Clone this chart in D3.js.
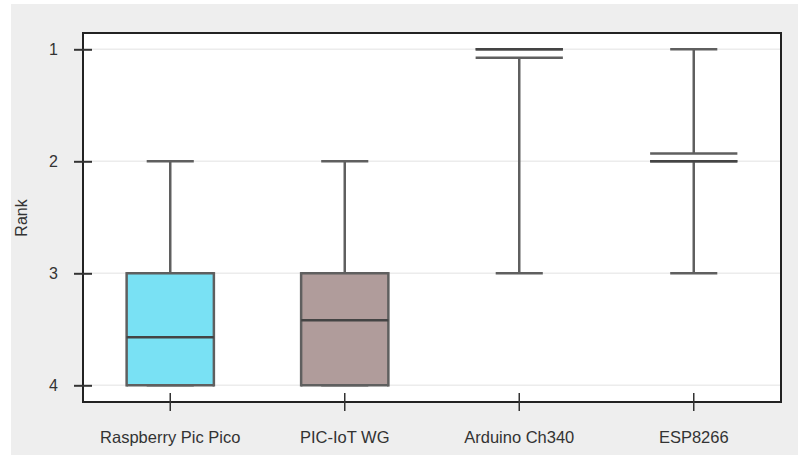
<!DOCTYPE html>
<html>
<head>
<meta charset="utf-8">
<script src="https://cdn.jsdelivr.net/npm/d3@7"></script>
<style>
  body { margin: 0; background: #fff; }
  text { font-family: "Liberation Sans", Arial, sans-serif; fill: #333; }
</style>
</head>
<body>
<svg id="chart" width="798" height="456"></svg>
<script>
// box plot data (rank, 1 = best)
const devices = ["Raspberry Pic Pico", "PIC-IoT WG", "Arduino Ch340", "ESP8266"];
const whiskerLow = [4, 4, 3, 3];
const q1 = [4, 4, 1.075, 2];
const median = [3.57, 3.42, 1, 2];
const q3 = [3, 3, 1, 1.93];
const whiskerHigh = [2, 2, 1, 1];
const fills = ["#79e1f4", "#b09c9b", "#ffffff", "#ffffff"];
const rankTicks = [1, 2, 3, 4];

const width = 798, height = 456;
const margin = { top: 33, right: 17, bottom: 54, left: 83 };

const svg = d3.select("#chart");

// grey panel behind the plot
svg.append("rect")
  .attr("x", 11).attr("y", 4)
  .attr("width", width - 11).attr("height", height - 5)
  .attr("fill", "#eeeeee");

const x = d3.scaleBand()
  .domain(devices)
  .range([margin.left, width - margin.right])
  .padding(0);

// rank 1 at top
const y = d3.scaleLinear()
  .domain([1, 4])
  .range([49.3, 385.3]);

svg.append("rect")
  .attr("x", margin.left).attr("y", margin.top)
  .attr("width", width - margin.right - margin.left)
  .attr("height", height - margin.bottom - margin.top)
  .attr("fill", "#fff");

// gridlines
svg.append("g")
  .selectAll("line")
  .data(rankTicks)
  .join("line")
  .attr("x1", margin.left).attr("x2", width - margin.right)
  .attr("y1", d => y(d)).attr("y2", d => y(d))
  .attr("stroke", "#ececec").attr("stroke-width", 1.5);

const data = devices.map((d, i) => ({
  name: d, lo: whiskerLow[i], q1: q1[i], med: median[i], q3: q3[i], hi: whiskerHigh[i], fill: fills[i]
}));

const boxW = x.bandwidth() * 0.5;
const capW = x.bandwidth() * 0.27;
const stroke = "#5f5f5f";

const g = svg.append("g")
  .selectAll("g")
  .data(data)
  .join("g")
  .attr("transform", d => `translate(${x(d.name) + x.bandwidth() / 2},0)`);

// whisker stem
g.append("line")
  .attr("x1", 0).attr("x2", 0)
  .attr("y1", d => y(d.lo)).attr("y2", d => y(d.hi))
  .attr("stroke", stroke).attr("stroke-width", 2.5);

// caps
g.append("line")
  .attr("x1", -capW / 2).attr("x2", capW / 2)
  .attr("y1", d => y(d.lo)).attr("y2", d => y(d.lo))
  .attr("stroke", stroke).attr("stroke-width", 2.5);
g.append("line")
  .attr("x1", -capW / 2).attr("x2", capW / 2)
  .attr("y1", d => y(d.hi)).attr("y2", d => y(d.hi))
  .attr("stroke", stroke).attr("stroke-width", 2.5);

// box fill (only visible on the tall boxes)
g.append("rect")
  .attr("x", -boxW / 2).attr("width", boxW)
  .attr("y", d => y(Math.min(d.q1, d.q3)))
  .attr("height", d => Math.abs(y(d.q1) - y(d.q3)))
  .attr("fill", d => d.fill);

// box edges: top & bottom always, sides only when the box is tall enough to show them
g.append("line")
  .attr("x1", -boxW / 2).attr("x2", boxW / 2)
  .attr("y1", d => y(d.q1)).attr("y2", d => y(d.q1))
  .attr("stroke", stroke).attr("stroke-width", 2.5);
g.append("line")
  .attr("x1", -boxW / 2).attr("x2", boxW / 2)
  .attr("y1", d => y(d.q3)).attr("y2", d => y(d.q3))
  .attr("stroke", stroke).attr("stroke-width", 2.5);
g.filter(d => Math.abs(y(d.q1) - y(d.q3)) > 20)
  .selectAll(".side")
  .data(d => [-boxW / 2, boxW / 2].map(sx => ({ sx, d })))
  .join("line")
  .attr("class", "side")
  .attr("x1", s => s.sx).attr("x2", s => s.sx)
  .attr("y1", s => y(s.d.q1) + 1.25).attr("y2", s => y(s.d.q3) - 1.25)
  .attr("stroke", stroke).attr("stroke-width", 2.5);

// median
g.append("line")
  .attr("x1", -boxW / 2).attr("x2", boxW / 2)
  .attr("y1", d => y(d.med)).attr("y2", d => y(d.med))
  .attr("stroke", "#444").attr("stroke-width", 2.5);

// frame
svg.append("rect")
  .attr("x", margin.left).attr("y", margin.top)
  .attr("width", width - margin.right - margin.left)
  .attr("height", height - margin.bottom - margin.top)
  .attr("fill", "none")
  .attr("stroke", "#222").attr("stroke-width", 2);

// y axis
const yAxis = svg.append("g")
  .attr("transform", `translate(${margin.left},0)`)
  .call(d3.axisLeft(y).tickValues(rankTicks).tickFormat(d3.format("d")).tickSize(9).tickPadding(16));
yAxis.select(".domain").remove();
yAxis.selectAll(".tick line").attr("x2", 9).attr("x1", -9).attr("stroke", "#333").attr("stroke-width", 2);
yAxis.selectAll(".tick text").attr("font-size", 16).attr("fill", "#333");

// x axis
const xAxis = svg.append("g")
  .attr("transform", `translate(0,${height - margin.bottom})`)
  .call(d3.axisBottom(x).tickSize(9).tickPadding(20));
xAxis.select(".domain").remove();
xAxis.selectAll(".tick line").attr("y1", -9).attr("y2", 9).attr("stroke", "#333").attr("stroke-width", 1.5);
xAxis.selectAll(".tick text").attr("font-size", 16.5).attr("fill", "#333");

// y label
svg.append("text")
  .attr("transform", "translate(26.5,218) rotate(-90)")
  .attr("text-anchor", "middle")
  .attr("font-size", 16)
  .text("Rank");
</script>
</body>
</html>
